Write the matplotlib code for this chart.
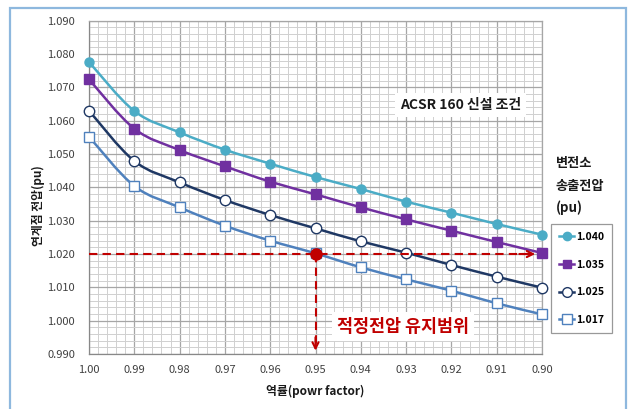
import numpy as np
import matplotlib
matplotlib.use('Agg')
import matplotlib.pyplot as plt
from matplotlib.path import Path
from matplotlib.patches import PathPatch, Rectangle
from matplotlib.lines import Line2D
from matplotlib.ticker import MultipleLocator, FormatStrFormatter

plt.rcParams['font.family'] = ['Noto Sans CJK KR', 'DejaVu Sans']

# ---------------- data ----------------
power_factor = [1.00, 0.99, 0.98, 0.97, 0.96, 0.95, 0.94, 0.93, 0.92, 0.91, 0.90]
v_1040 = [1.0776, 1.0629, 1.0565, 1.0513, 1.0471, 1.0431, 1.0395, 1.0357, 1.0324, 1.0290, 1.0258]
v_1035 = [1.0724, 1.0576, 1.0512, 1.0463, 1.0417, 1.0379, 1.0340, 1.0304, 1.0270, 1.0236, 1.0203]
v_1025 = [1.0630, 1.0479, 1.0415, 1.0362, 1.0317, 1.0277, 1.0238, 1.0204, 1.0167, 1.0132, 1.0099]
v_1017 = [1.0552, 1.0404, 1.0340, 1.0285, 1.0240, 1.0202, 1.0160, 1.0124, 1.0090, 1.0052, 1.0019]
series_labels = ['1.040', '1.035', '1.025', '1.017']
target_voltage = 1.020
target_pf = 0.95
title_text = 'ACSR 160 신설 조건'
range_text = '적정전압 유지범위'
legend_title = ['변전소', '송출전압', '(pu)']
x_label = '역률(powr factor)'
y_label = '연계점 전압(pu)'

W, H = 632, 409
fig = plt.figure(figsize=(W / 100, H / 100), dpi=100)
ax = fig.add_axes([89 / W, 1 - 354 / H, (542 - 89) / W, (354 - 20.7) / H])

# outer border
fig.patches.append(Rectangle((10 / W, -0.02), (626 - 10) / W, 1.02 - 8 / H,
                             transform=fig.transFigure, fill=False,
                             edgecolor='#8EB8DE', lw=1.6, zorder=0))

colors = ['#4BACC6', '#7030A0', '#1F3864', '#4F81BD']
markers = ['o', 's', 'o', 's']
mfcs = ['#4BACC6', '#7030A0', 'white', 'white']
msizes = [6.5, 6.5, 7.5, 7.5]
series = [v_1040, v_1035, v_1025, v_1017]


def smooth_path(x, y):
    pts = np.column_stack([x, y]).astype(float)
    n = len(pts)
    verts = [pts[0]]
    codes = [Path.MOVETO]
    for i in range(n - 1):
        p0 = pts[i - 1] if i > 0 else pts[i]
        p1 = pts[i]
        p2 = pts[i + 1]
        p3 = pts[i + 2] if i + 2 < n else pts[i + 1]
        c1 = p1 + (p2 - p0) / 6.0
        c2 = p2 - (p3 - p1) / 6.0
        verts += [c1, c2, p2]
        codes += [Path.CURVE4] * 3
    return Path(verts, codes)


handles = []
for vals, c, m, fc, ms, lab in zip(series, colors, markers, mfcs, msizes, series_labels):
    ax.add_patch(PathPatch(smooth_path(power_factor, vals), fill=False,
                           edgecolor=c, lw=1.8, zorder=3))
    ax.plot(power_factor, vals, ls='none', marker=m, ms=ms, mfc=fc, mec=c,
            mew=1.0, zorder=4, clip_on=False)
    handles.append(Line2D([], [], color=c, lw=1.8, marker=m, ms=ms - 0.5,
                          mfc=fc, mec=c, mew=1.0))

ax.set_xlim(1.00, 0.90)
ax.set_ylim(0.990, 1.090)
ax.xaxis.set_major_locator(MultipleLocator(0.01))
ax.xaxis.set_minor_locator(MultipleLocator(0.002))
ax.yaxis.set_major_locator(MultipleLocator(0.01))
ax.yaxis.set_minor_locator(MultipleLocator(0.002))
ax.xaxis.set_major_formatter(FormatStrFormatter('%.2f'))
ax.yaxis.set_major_formatter(FormatStrFormatter('%.3f'))
ax.grid(which='major', color='#A6A6A6', lw=0.9, zorder=0)
ax.grid(which='minor', color='#D0D0D0', lw=0.7, zorder=0)
ax.set_axisbelow(True)
ax.tick_params(which='both', length=0)
ax.tick_params(axis='x', pad=8, labelsize=8, labelcolor='#404040')
ax.tick_params(axis='y', pad=10, labelsize=8, labelcolor='#404040')
for s in ax.spines.values():
    s.set_color('#A6A6A6')
    s.set_linewidth(0.9)
ax.spines['left'].set_color('#888888')
ax.spines['bottom'].set_color('#888888')

# red guide lines
red = '#C00000'
ax.plot([1.00, 0.9025], [target_voltage, target_voltage], color=red, lw=1.5,
        ls=(0, (4, 2.5)), zorder=5, clip_on=False)
ax.annotate('', xy=(0.9015, target_voltage), xytext=(0.905, target_voltage),
            arrowprops=dict(arrowstyle='->', color=red, lw=1.5,
                            mutation_scale=11, shrinkA=0, shrinkB=0), zorder=5)
ax.plot([target_pf, target_pf], [target_voltage, 0.9925], color=red, lw=1.5,
        ls=(0, (4, 2.5)), zorder=5, clip_on=False)
ax.annotate('', xy=(target_pf, 0.9910), xytext=(target_pf, 0.995),
            arrowprops=dict(arrowstyle='->', color=red, lw=1.5,
                            mutation_scale=11, shrinkA=0, shrinkB=0), zorder=5)
ax.plot([target_pf], [target_voltage], marker='o', ms=8, color=red, zorder=6)

ax.text(0.918, 1.0647, title_text, fontsize=10, fontweight='bold', color='#1a1a1a',
        ha='center', va='center', zorder=7,
        bbox=dict(boxstyle='square,pad=0.35', fc='white', ec='none'))
ax.text(0.9307, 0.9982, range_text, fontsize=12.5, fontweight='bold', color=red,
        ha='center', va='center', zorder=7,
        bbox=dict(boxstyle='square,pad=0.3', fc='white', ec='none'))

# axis labels
fig.text(38 / W, 1 - 206 / H, y_label, rotation=90, fontsize=8.5, fontweight='bold',
         ha='center', va='center', color='#1a1a1a')
fig.text(315 / W, 1 - 391.5 / H, x_label, fontsize=8.5, fontweight='bold',
         ha='center', va='center', color='#1a1a1a')

# legend title
for i, t in enumerate(legend_title):
    fig.text(556 / W, 1 - (163 + 22.5 * i) / H, t, fontsize=9.5, fontweight='bold',
             ha='left', va='center', color='#1a1a1a')

leg = fig.legend(handles, series_labels, loc='upper left',
                 bbox_to_anchor=(551 / W, 1 - 224 / H), frameon=True, fancybox=False,
                 edgecolor='#808080', handlelength=1.5, handletextpad=0.2,
                 labelspacing=1.7, borderpad=0.75, borderaxespad=0,
                 prop={'weight': 'bold', 'size': 7.5})
leg.get_frame().set_linewidth(0.9)

fig.savefig('out.png', dpi=100)
